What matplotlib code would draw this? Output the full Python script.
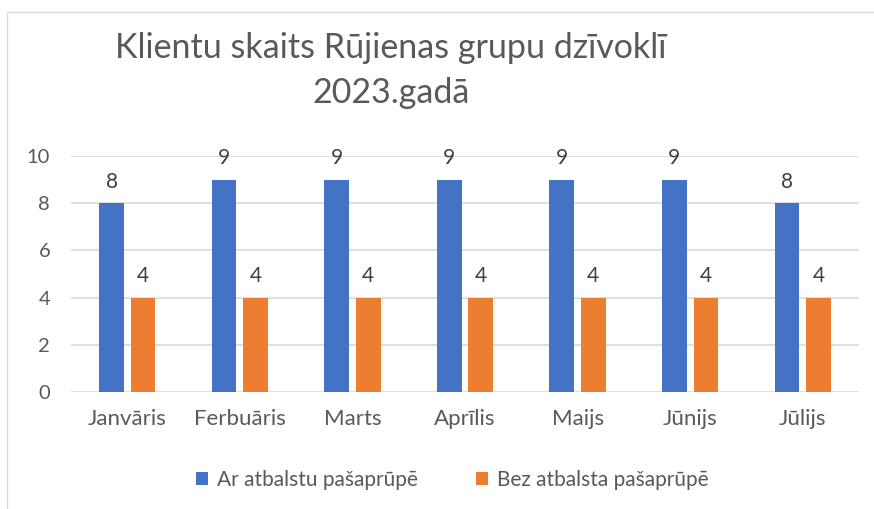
import matplotlib
matplotlib.use("Agg")
import matplotlib.pyplot as plt
import numpy as np
from matplotlib.patches import Rectangle

months = ["Janvāris", "Ferbuāris", "Marts", "Aprīlis", "Maijs", "Jūnijs", "Jūlijs"]
ar_atbalstu = [8, 9, 9, 9, 9, 9, 8]
bez_atbalsta = [4, 4, 4, 4, 4, 4, 4]
series_names = ["Ar atbalstu pašaprūpē", "Bez atbalsta pašaprūpē"]
title_lines = ["Klientu skaits Rūjienas grupu dzīvoklī", "2023.gadā"]

blue = "#4472C4"
orange = "#ED7D31"
txt = "#595959"

plt.rcParams["font.family"] = ["Lato", "DejaVu Sans"]

fig = plt.figure(figsize=(8.74, 5.09), dpi=100)
ax = fig.add_axes([71 / 874, 1 - 392 / 509, 788 / 874, 236 / 509])

x = np.arange(len(months))
w = 0.22
off = 0.14
b1 = ax.bar(x - off, ar_atbalstu, w, color=blue, label=series_names[0], zorder=3)
b2 = ax.bar(x + off, bez_atbalsta, w, color=orange, label=series_names[1], zorder=3)
for bars in (b1, b2):
    ax.bar_label(bars, padding=8, fontsize=15, color="#404040")

ax.set_xlim(-0.5, len(months) - 0.5)
ax.set_ylim(0, 10)
ax.set_yticks(range(0, 11, 2))
ax.set_xticks(x)
ax.set_xticklabels(months)
ax.tick_params(length=0, labelsize=16, labelcolor=txt)
ax.tick_params(axis="y", labelsize=14.5, pad=15)
ax.tick_params(axis="x", pad=12)
ax.grid(axis="y", color="#D9D9D9", linewidth=1.2, zorder=0)
for s in ax.spines.values():
    s.set_visible(False)

# two title lines, placed by baseline
for line, base in zip(title_lines, [58, 103]):
    fig.text(391 / 874, 1 - base / 509, line, ha="center", va="baseline",
             fontsize=24.5, color=txt)

leg = fig.legend(handles=[b1, b2], loc="center", bbox_to_anchor=(452 / 874, 1 - 480 / 509),
                 ncol=2, frameon=False, fontsize=15, handlelength=0.6, handleheight=0.6,
                 handletextpad=0.4, columnspacing=2.8)
for t in leg.get_texts():
    t.set_color(txt)

fig.patches.append(Rectangle((7 / 874, -0.1), 1.2, 1 - 12 / 509 + 0.1,
                             transform=fig.transFigure, fill=False,
                             edgecolor="#D9D9D9", linewidth=1))

fig.savefig("out.png", dpi=100)
